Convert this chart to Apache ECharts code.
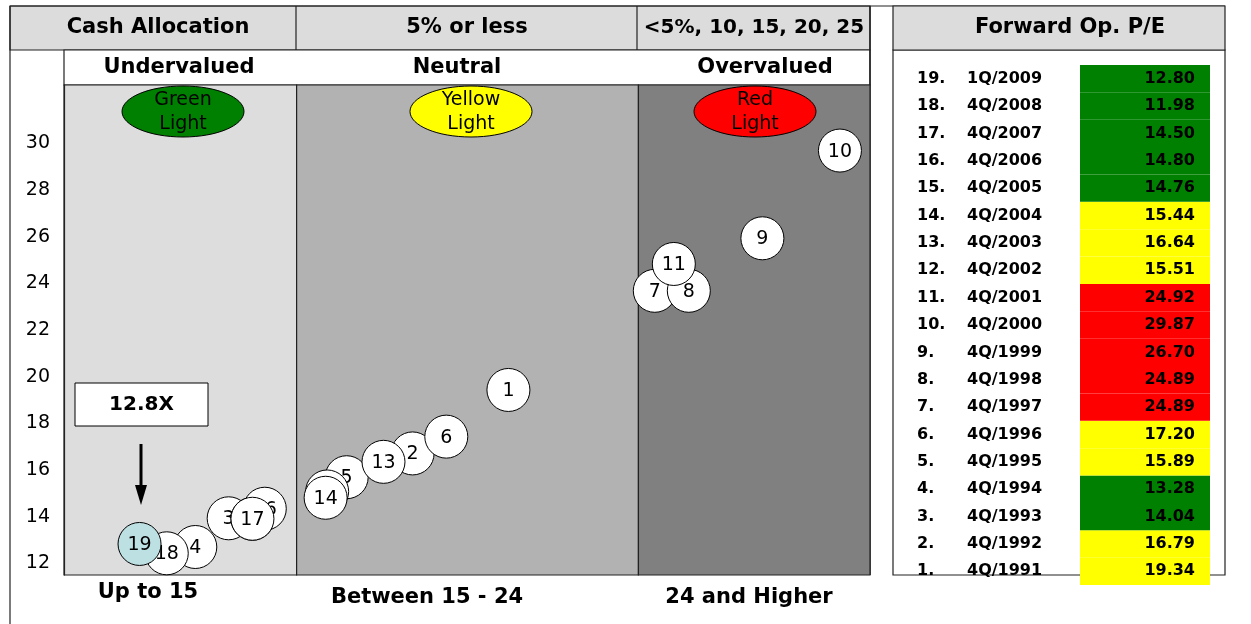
<!DOCTYPE html>
<html>
<head>
<meta charset="utf-8">
<script src="https://cdn.jsdelivr.net/npm/echarts@6/dist/echarts.min.js"></script>
<style>
html,body{margin:0;padding:0;background:#fff;}
#chart{width:1251px;height:624px;}
</style>
</head>
<body>
<div id="chart"></div>
<script>
// ---- Data ----
const bubbleLabels = ['1','2','3','4','5','6','7','8','9','10','11','12','13','14','15','16','17','18','19'];
// horizontal position within the valuation band scale (0-100)
const bubbleX = [55.14, 43.25, 20.43, 16.29, 35.07, 47.43, 73.30, 77.52, 86.65, 96.27, 75.66, 32.65, 39.64, 32.46, 23.38, 24.91, 23.38, 12.75, 9.37];
// vertical position (P/E scale)
const bubbleY = [19.43, 16.71, 13.93, 12.70, 15.69, 17.43, 23.68, 23.68, 25.93, 29.69, 24.83, 15.08, 16.35, 14.81, 13.91, 14.34, 13.91, 12.43, 12.83];
const yTicks = [12, 14, 16, 18, 20, 22, 24, 26, 28, 30];
const bandEdges = [0, 28.86, 71.27, 100];
const bandNames = ['Undervalued', 'Neutral', 'Overvalued'];
const bandRanges = ['Up to 15', 'Between 15 - 24', '24 and Higher'];
const headerCells = ['Cash Allocation', '5% or less', '<5%, 10, 15, 20, 25'];
const lightNames = ['Green\nLight', 'Yellow\nLight', 'Red\nLight'];
const callout = '12.8X';

const rowNum = ['1.','2.','3.','4.','5.','6.','7.','8.','9.','10.','11.','12.','13.','14.','15.','16.','17.','18.','19.'];
const rowDate = ['4Q/1991','4Q/1992','4Q/1993','4Q/1994','4Q/1995','4Q/1996','4Q/1997','4Q/1998','4Q/1999','4Q/2000','4Q/2001','4Q/2002','4Q/2003','4Q/2004','4Q/2005','4Q/2006','4Q/2007','4Q/2008','1Q/2009'];
const forwardPE = [19.34, 16.79, 14.04, 13.28, 15.89, 17.20, 24.89, 24.89, 26.70, 29.87, 24.92, 15.51, 16.64, 15.44, 14.76, 14.80, 14.50, 11.98, 12.80];
const signal = ['Y','Y','G','G','Y','Y','R','R','R','R','R','Y','Y','Y','G','G','G','G','G'];

// ---- Styles ----
const FONT = "'DejaVu Sans', sans-serif";
const LINE = '#222';
const bandColors = ['#dddddd', '#b2b2b2', '#808080'];
const lightColors = ['#008000', '#ffff00', '#ff0000'];
const sigColor = {G: '#008000', Y: '#ffff00', R: '#ff0000'};
const Y_MIN = 11.5, Y_MAX = 32.5;

const chart = echarts.init(document.getElementById('chart'), null, {renderer: 'canvas'});

const boldText = (text, x, y, size, align) => ({
  type: 'text', z: 6,
  style: {text: text, x: x, y: y, align: align || 'center', verticalAlign: 'middle',
          font: 'bold ' + size + 'px ' + FONT, fill: '#000'}
});

const graphics = [
  // header row (left block)
  {type: 'rect', z: 1, shape: {x: 10, y: 6, width: 860, height: 44}, style: {fill: '#dcdcdc', stroke: LINE, lineWidth: 1.2}},
  {type: 'line', z: 1, shape: {x1: 296, y1: 6, x2: 296, y2: 50}, style: {stroke: LINE, lineWidth: 1.2}},
  {type: 'line', z: 1, shape: {x1: 637, y1: 6, x2: 637, y2: 50}, style: {stroke: LINE, lineWidth: 1.2}},
  // top line continuing across
  {type: 'line', z: 1, shape: {x1: 10, y1: 6, x2: 1225, y2: 6}, style: {stroke: LINE, lineWidth: 1.2}},
  // left outer border
  {type: 'line', z: 1, shape: {x1: 10, y1: 6, x2: 10, y2: 624}, style: {stroke: LINE, lineWidth: 1.2}},
  // row 2 label band
  {type: 'rect', z: 1, shape: {x: 64, y: 50, width: 806, height: 35}, style: {fill: '#fff', stroke: LINE, lineWidth: 1.2}},
  // right edge of left block
  {type: 'line', z: 1, shape: {x1: 870, y1: 6, x2: 870, y2: 575}, style: {stroke: LINE, lineWidth: 1.5}},
  // right table header and box
  {type: 'rect', z: 1, shape: {x: 893, y: 6, width: 332, height: 44}, style: {fill: '#dcdcdc', stroke: LINE, lineWidth: 1.2}},
  {type: 'rect', z: 0, shape: {x: 893, y: 50, width: 332, height: 525}, style: {fill: 'none', stroke: LINE, lineWidth: 1.2}},
  boldText(headerCells[0], 158, 28, 21),
  boldText(headerCells[1], 467, 28, 21),
  boldText(headerCells[2], 754, 28, 20),
  boldText('Forward Op. P/E', 1070, 28, 21),
  boldText(bandNames[0], 179, 68, 21),
  boldText(bandNames[1], 457, 68, 21),
  boldText(bandNames[2], 765, 68, 21),
  boldText(bandRanges[0], 148, 593, 21),
  boldText(bandRanges[1], 427, 598, 21),
  boldText(bandRanges[2], 749, 598, 21),
  // callout box and arrow
  {type: 'rect', z: 6, shape: {x: 75, y: 383, width: 133, height: 43}, style: {fill: '#fff', stroke: '#000', lineWidth: 1}},
  boldText(callout, 141.5, 405, 20),
  {type: 'line', z: 6, shape: {x1: 141, y1: 444, x2: 141, y2: 488}, style: {stroke: '#000', lineWidth: 3}},
  {type: 'polygon', z: 6, shape: {points: [[135, 485], [147, 485], [141, 505]]}, style: {fill: '#000'}}
];
// traffic-light ellipses
const lightCx = [183, 471, 755];
lightNames.forEach((t, i) => {
  graphics.push({type: 'ellipse', z: 6, shape: {cx: lightCx[i], cy: 111.5, rx: 61, ry: 25.5},
    style: {fill: lightColors[i], stroke: '#000', lineWidth: 1}});
  graphics.push({type: 'text', z: 7, style: {text: t, x: lightCx[i], y: 112, align: 'center', verticalAlign: 'middle',
    font: '19px ' + FONT, fill: '#000', lineHeight: 24}});
});

const bandData = [];
for (let i = 0; i < bandEdges.length - 1; i++) bandData.push([bandEdges[i], bandEdges[i + 1], Y_MIN, Y_MAX]);

const option = {
  animation: false,
  backgroundColor: '#fff',
  graphic: {elements: graphics},
  grid: [
    {left: 64, top: 85, width: 806, height: 490},
    {left: 1080, top: 65, width: 130, height: 520}
  ],
  xAxis: [
    {gridIndex: 0, type: 'value', min: 0, max: 100, show: false},
    {gridIndex: 1, type: 'value', min: 0, max: 1, show: false}
  ],
  yAxis: [
    {gridIndex: 0, type: 'value', min: Y_MIN, max: Y_MAX, z: 5,
      axisLine: {show: true, lineStyle: {color: LINE, width: 1.2}},
      axisTick: {show: false}, splitLine: {show: false},
      axisLabel: {customValues: yTicks, margin: 14, color: '#000', fontSize: 19, fontFamily: FONT}},
    {gridIndex: 1, type: 'category', data: rowNum, z: 5,
      axisLine: {show: false}, axisTick: {show: false},
      axisLabel: {
        align: 'left', margin: 163, color: '#000',
        formatter: (v, i) => '{n|' + rowNum[i] + '}{d|' + rowDate[i] + '}',
        rich: {
          n: {width: 50, fontSize: 16, fontWeight: 'bold', fontFamily: FONT, color: '#000', align: 'left'},
          d: {fontSize: 16, fontWeight: 'bold', fontFamily: FONT, color: '#000'}
        }
      }}
  ],
  series: [
    {
      type: 'custom', name: 'bands', xAxisIndex: 0, yAxisIndex: 0, z: 2, silent: true, clip: false,
      encode: {x: [0, 1], y: [2, 3]},
      data: bandData,
      renderItem: (params, api) => {
        const p0 = api.coord([api.value(0), api.value(3)]);
        const p1 = api.coord([api.value(1), api.value(2)]);
        return {type: 'rect', shape: {x: p0[0], y: p0[1], width: p1[0] - p0[0], height: p1[1] - p0[1]},
          style: {fill: bandColors[params.dataIndex], stroke: LINE, lineWidth: 1.2}};
      }
    },
    {
      type: 'custom', name: 'bubbles', xAxisIndex: 0, yAxisIndex: 0, z: 3, clip: false,
      encode: {x: 0, y: 1},
      data: bubbleX.map((x, i) => [x, bubbleY[i]]),
      renderItem: (params, api) => {
        const i = params.dataIndex;
        const p = api.coord([api.value(0), api.value(1)]);
        return {type: 'group', children: [
          {type: 'circle', z2: 10 + 2 * i, shape: {cx: p[0], cy: p[1], r: 21.5},
            style: {fill: bubbleLabels[i] === '19' ? '#bde0e3' : '#ffffff', stroke: '#000', lineWidth: 1}},
          {type: 'text', z2: 11 + 2 * i, style: {text: bubbleLabels[i], x: p[0], y: p[1] + 1, align: 'center', verticalAlign: 'middle',
            font: '19px ' + FONT, fill: '#000'}}
        ]};
      }
    },
    {
      type: 'bar', name: 'Forward Op. P/E', xAxisIndex: 1, yAxisIndex: 1, z: 2,
      barCategoryGap: '0%',
      data: forwardPE.map((v, i) => ({value: 1, itemStyle: {color: sigColor[signal[i]]}})),
      label: {show: true, position: 'insideRight', distance: 15, color: '#000',
        fontSize: 16, fontWeight: 'bold', fontFamily: FONT,
        formatter: (p) => forwardPE[p.dataIndex].toFixed(2)}
    }
  ]
};
chart.setOption(option);
</script>
</body>
</html>
